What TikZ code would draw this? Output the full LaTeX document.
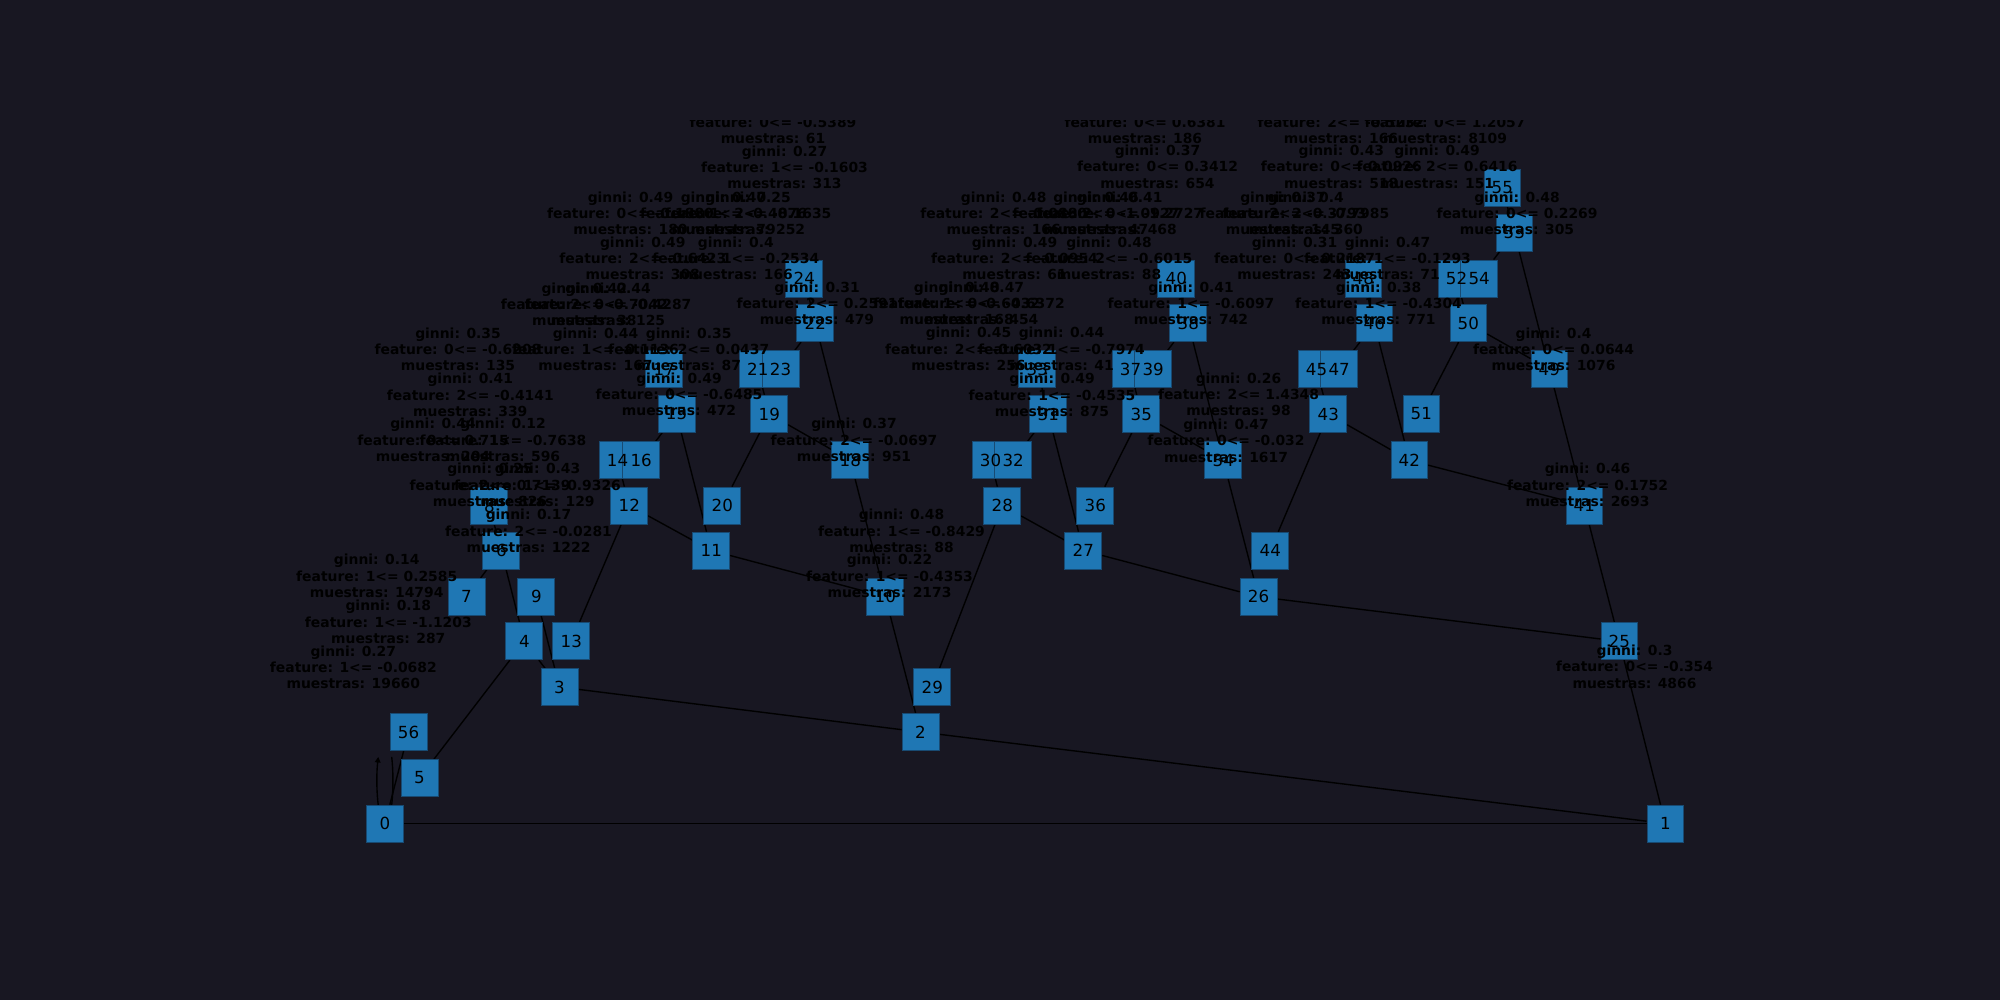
\documentclass[tikz,border=0pt]{standalone}
\usepackage{fontspec}
\setmainfont{DejaVu Sans}
\usetikzlibrary{arrows.meta}
\definecolor{bgdark}{RGB}{24,23,34}
\definecolor{nodeblue}{RGB}{31,119,180}
\definecolor{nodeedge}{RGB}{24,74,114}
\pgfdeclarelayer{edges}
\pgfsetlayers{edges,main}

\begin{document}
\begin{tikzpicture}[
  x=0.72pt, y=-0.72pt,
  nd/.style={draw=nodeedge, line width=0.5pt, fill=nodeblue, minimum size=26.6pt, inner sep=0pt},
  num/.style={font=\fontsize{12}{14}\selectfont, text=black, inner sep=0pt},
  info/.style={font=\fontsize{10}{11.7}\selectfont\bfseries, align=center, inner sep=0pt, text=black},
  ln/.style={draw=black, line width=1pt},
  lp/.style={ln, -{Triangle[length=4pt,width=4pt]}}
]
\useasboundingbox (0,0) rectangle (2000,1000);

\node[nd] (n0) at (385,823.5) {};
\node[nd] (n1) at (1665.3,823.5) {};
\node[nd] (n2) at (920.5,732) {};
\node[nd] (n3) at (559.5,687) {};
\node[nd] (n4) at (524.3,641.3) {};
\node[nd] (n5) at (419.5,778) {};
\node[nd] (n6) at (501.3,550.5) {};
\node[nd] (n7) at (466.5,596.7) {};
\node[nd] (n8) at (489.3,506) {};
\node[nd] (n9) at (536.3,596.7) {};
\node[nd] (n10) at (885.3,596.7) {};
\node[nd] (n11) at (711.3,550.5) {};
\node[nd] (n12) at (629.3,505.5) {};
\node[nd] (n13) at (571.3,641.3) {};
\node[nd] (n14) at (617.5,460.3) {};
\node[nd] (n15) at (676.5,414) {};
\node[nd] (n16) at (641.2,460.3) {};
\node[nd] (n17) at (664.3,369.2) {};
\node[nd] (n18) at (850.3,460.3) {};
\node[nd] (n19) at (769.3,414) {};
\node[nd] (n20) at (722.3,505.5) {};
\node[nd] (n21) at (757.8,369.2) {};
\node[nd] (n22) at (815.3,323.3) {};
\node[nd] (n23) at (780.5,369.2) {};
\node[nd] (n24) at (804.3,278.4) {};
\node[nd] (n25) at (1619.3,641.3) {};
\node[nd] (n26) at (1258.5,596.7) {};
\node[nd] (n27) at (1083.3,550.5) {};
\node[nd] (n28) at (1002.3,505.5) {};
\node[nd] (n29) at (932.3,687) {};
\node[nd] (n30) at (990.5,460.3) {};
\node[nd] (n31) at (1048.3,414) {};
\node[nd] (n32) at (1013.2,460.3) {};
\node[nd] (n33) at (1037.3,369.2) {};
\node[nd] (n34) at (1223.3,460.3) {};
\node[nd] (n35) at (1141.3,414) {};
\node[nd] (n36) at (1095.3,505.5) {};
\node[nd] (n37) at (1130.5,369.2) {};
\node[nd] (n38) at (1188.3,323.3) {};
\node[nd] (n39) at (1153.2,369.2) {};
\node[nd] (n40) at (1176.3,278.4) {};
\node[nd] (n41) at (1584.3,505.5) {};
\node[nd] (n42) at (1409.3,460.3) {};
\node[nd] (n43) at (1328.3,414) {};
\node[nd] (n44) at (1270.3,550.5) {};
\node[nd] (n45) at (1316.5,369.2) {};
\node[nd] (n46) at (1374.3,323.3) {};
\node[nd] (n47) at (1339.2,369.2) {};
\node[nd] (n48) at (1363.3,278.4) {};
\node[nd] (n49) at (1549.3,369.2) {};
\node[nd] (n50) at (1468.3,323.3) {};
\node[nd] (n51) at (1421.3,414) {};
\node[nd] (n52) at (1456.5,278.4) {};
\node[nd] (n53) at (1514.3,232.5) {};
\node[nd] (n54) at (1479.2,278.4) {};
\node[nd] (n55) at (1502.3,187.7) {};
\node[nd] (n56) at (408.5,732) {};

\foreach \i in {0,...,56}
  \node[num] (t\i) at (n\i) {\i};

\coordinate (lpr) at (391.7,756.9);
\coordinate (lpl) at (378.3,756.9);

\begin{pgfonlayer}{edges}
\fill[bgdark] (0,0) rectangle (2000,1000);
\draw[ln] (n0) -- (n1);
\draw[ln] (n0) -- (n56);
\draw[ln] (n5) -- (n4);
\draw[ln] (n3) -- (n2);
\draw[ln] (n2) -- (n1);
\draw[ln] (n4) -- (n3);
\draw[ln] (n9) -- (n3);
\draw[ln] (n6) -- (n4);
\draw[ln] (n6) -- (n7);
\draw[ln] (n8) -- (n6);
\draw[ln] (n13) -- (n12);
\draw[ln] (n12) -- (n11);
\draw[ln] (n14) -- (n12);
\draw[ln] (n15) -- (n11);
\draw[ln] (n15) -- (n16);
\draw[ln] (n17) -- (n15);
\draw[ln] (n11) -- (n10);
\draw[ln] (n20) -- (n19);
\draw[ln] (n19) -- (n18);
\draw[ln] (n21) -- (n19);
\draw[ln] (n18) -- (n10);
\draw[ln] (n22) -- (n18);
\draw[ln] (n22) -- (n23);
\draw[ln] (n24) -- (n22);
\draw[ln] (n10) -- (n2);
\draw[ln] (n28) -- (n29);
\draw[ln] (n28) -- (n27);
\draw[ln] (n30) -- (n28);
\draw[ln] (n31) -- (n32);
\draw[ln] (n31) -- (n27);
\draw[ln] (n33) -- (n31);
\draw[ln] (n27) -- (n26);
\draw[ln] (n35) -- (n36);
\draw[ln] (n35) -- (n34);
\draw[ln] (n37) -- (n35);
\draw[ln] (n38) -- (n39);
\draw[ln] (n38) -- (n34);
\draw[ln] (n40) -- (n38);
\draw[ln] (n34) -- (n26);
\draw[ln] (n44) -- (n43);
\draw[ln] (n43) -- (n42);
\draw[ln] (n43) -- (n45);
\draw[ln] (n42) -- (n41);
\draw[ln] (n46) -- (n42);
\draw[ln] (n46) -- (n47);
\draw[ln] (n48) -- (n46);
\draw[ln] (n51) -- (n50);
\draw[ln] (n50) -- (n49);
\draw[ln] (n52) -- (n50);
\draw[ln] (n53) -- (n54);
\draw[ln] (n53) -- (n49);
\draw[ln] (n55) -- (n53);
\draw[ln] (n49) -- (n41);
\draw[ln] (n41) -- (n25);
\draw[ln] (n25) -- (n1);
\draw[ln] (n26) -- (n25);
\draw[ln] (lpr) .. controls (394.6,781.9) and (392.4,823.5) .. (n0.center);
\draw[lp] (n0.center) .. controls (377.6,823.5) and (375.4,781.9) .. (lpl);
\end{pgfonlayer}

\begin{scope}
\clip (250,120) rectangle (1800,890);
\node[info] (g1) at (376.7,576) {ginni: 0.14\\feature: 1<= 0.2585\\muestras: 14794};
\node[info] (g2) at (388.3,622) {ginni: 0.18\\feature: 1<= -1.1203\\muestras: 287};
\node[info] (g3) at (353.3,667.3) {ginni: 0.27\\feature: 1<= -0.0682\\muestras: 19660};
\node[info] (g4) at (528.5,531) {ginni: 0.17\\feature: 2<= -0.0281\\muestras: 1222};
\node[info] (g5) at (490,485) {ginni: 0.25\\feature: 2<= 0.7139\\muestras: 826};
\node[info] (g6) at (537.5,485) {ginni: 0.43\\feature: 1<= -0.9326\\muestras: 129};
\node[info] (g7) at (433,440) {ginni: 0.44\\feature: 0<= 0.715\\muestras: 204};
\node[info] (g8) at (503,440) {ginni: 0.12\\feature: 1<= -0.7638\\muestras: 596};
\node[info] (g9) at (470.3,395) {ginni: 0.41\\feature: 2<= -0.4141\\muestras: 339};
\node[info] (g10) at (458,349.3) {ginni: 0.35\\feature: 0<= -0.6208\\muestras: 135};
\node[info] (g11) at (595.5,349.3) {ginni: 0.44\\feature: 1<= -0.1136\\muestras: 167};
\node[info] (g12) at (688.7,349.3) {ginni: 0.35\\feature: 2<= 0.0437\\muestras: 87};
\node[info] (g13) at (679,394.3) {ginni: 0.49\\feature: 0<= -0.6485\\muestras: 472};
\node[info] (g14) at (584.3,304.3) {ginni: 0.42\\feature: 2<= -0.7042\\muestras: 38};
\node[info] (g15) at (608,304.3) {ginni: 0.44\\feature: 0<= -0.4287\\muestras: 125};
\node[info] (g16) at (642.8,258.3) {ginni: 0.49\\feature: 2<= -0.6423\\muestras: 308};
\node[info] (g17) at (735.8,258.3) {ginni: 0.4\\feature: 1<= -0.2534\\muestras: 166};
\node[info] (g18) at (630.5,213.3) {ginni: 0.49\\feature: 0<= -0.1880\\muestras: 180};
\node[info] (g19) at (723.5,213.3) {ginni: 0.47\\feature: 1<= -0.4876\\muestras: 79};
\node[info] (g20) at (748,213.3) {ginni: 0.25\\feature: 2<= -0.1635\\muestras: 252};
\node[info] (g21) at (784.5,167.3) {ginni: 0.27\\feature: 1<= -0.1603\\muestras: 313};
\node[info] (g22) at (773,122.5) {ginni: 0.3\\feature: 0<= -0.5389\\muestras: 61};
\node[info] (g23) at (817,303.3) {ginni: 0.31\\feature: 2<= 0.2591\\muestras: 479};
\node[info] (g24) at (956.7,303.3) {ginni: 0.48\\feature: 1<= -0.6432\\muestras: 168};
\node[info] (g25) at (981.3,303.3) {ginni: 0.47\\feature: 0<= -0.6372\\muestras: 454};
\node[info] (g26) at (968.5,349) {ginni: 0.45\\feature: 2<= -0.6032\\muestras: 256};
\node[info] (g27) at (1061.5,349) {ginni: 0.44\\feature: 1<= -0.7974\\muestras: 41};
\node[info] (g28) at (1052,395) {ginni: 0.49\\feature: 1<= -0.4535\\muestras: 875};
\node[info] (g29) at (1003.7,213.3) {ginni: 0.48\\feature: 2<= -0.0880\\muestras: 166};
\node[info] (g30) at (1096,213.3) {ginni: 0.46\\feature: 2<= -1.0927\\muestras: 47};
\node[info] (g31) at (1119.7,213.3) {ginni: 0.41\\feature: 0<= -1.2727\\muestras: 468};
\node[info] (g32) at (1014.5,258.3) {ginni: 0.49\\feature: 2<= -0.0954\\muestras: 61};
\node[info] (g33) at (1109,258.3) {ginni: 0.48\\feature: 2<= -0.6015\\muestras: 88};
\node[info] (g34) at (1157.5,166.7) {ginni: 0.37\\feature: 0<= 0.3412\\muestras: 654};
\node[info] (g35) at (1145,122.5) {ginni: 0.2\\feature: 0<= 0.6381\\muestras: 186};
\node[info] (g36) at (1191,303.3) {ginni: 0.41\\feature: 1<= -0.6097\\muestras: 742};
\node[info] (g37) at (1378.5,303.3) {ginni: 0.38\\feature: 1<= -0.4304\\muestras: 771};
\node[info] (g38) at (1294.5,258.3) {ginni: 0.31\\feature: 0<= 0.2187\\muestras: 243};
\node[info] (g39) at (1387.5,258.3) {ginni: 0.47\\feature: 1<= -0.1293\\muestras: 71};
\node[info] (g40) at (1283,213.3) {ginni: 0.37\\feature: 2<= -0.3793\\muestras: 145};
\node[info] (g41) at (1305.8,213.3) {ginni: 0.4\\feature: 2<= -0.7985\\muestras: 360};
\node[info] (g42) at (1341.3,166.7) {ginni: 0.43\\feature: 0<= 0.0926\\muestras: 518};
\node[info] (g43) at (1437,166.7) {ginni: 0.49\\feature: 2<= 0.6416\\muestras: 151};
\node[info] (g44) at (1341,122.5) {ginni: 0.3\\feature: 2<= -0.5232\\muestras: 166};
\node[info] (g45) at (1445,122.5) {ginni: 0.4\\feature: 0<= 1.2057\\muestras: 8109};
\node[info] (g46) at (1517,213.3) {ginni: 0.48\\feature: 0<= 0.2269\\muestras: 305};
\node[info] (g47) at (1553.5,349.3) {ginni: 0.4\\feature: 0<= 0.0644\\muestras: 1076};
\node[info] (g48) at (1238.5,394.3) {ginni: 0.26\\feature: 2<= 1.4348\\muestras: 98};
\node[info] (g49) at (1226,440.7) {ginni: 0.47\\feature: 0<= -0.032\\muestras: 1617};
\node[info] (g50) at (854,440) {ginni: 0.37\\feature: 2<= -0.0697\\muestras: 951};
\node[info] (g51) at (901.5,531) {ginni: 0.48\\feature: 1<= -0.8429\\muestras: 88};
\node[info] (g52) at (889.5,576) {ginni: 0.22\\feature: 1<= -0.4353\\muestras: 2173};
\node[info] (g53) at (1634.5,666.7) {ginni: 0.3\\feature: 0<= -0.354\\muestras: 4866};
\node[info] (g54) at (1587.5,485) {ginni: 0.46\\feature: 2<= 0.1752\\muestras: 2693};
\end{scope}
\end{tikzpicture}
\end{document}
